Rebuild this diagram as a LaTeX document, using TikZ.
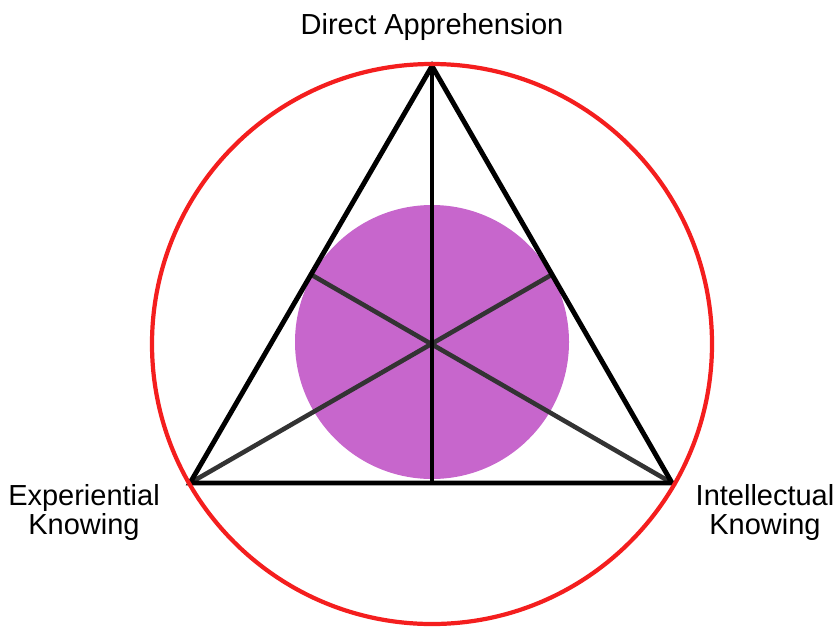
\documentclass[tikz,border=0pt]{standalone}
\usepackage{fontspec}
\setmainfont{Liberation Sans}
\definecolor{triRed}{HTML}{F41E1E}
\definecolor{triPurple}{HTML}{C766CC}
\definecolor{triGray}{HTML}{333333}
\usetikzlibrary{calc}

\begin{document}
\begin{tikzpicture}[x=0.02cm, y=-0.02cm,
  edge/.style={line width=2.8pt, line join=miter},
  median/.style={triGray, line width=2.6pt},
  lbl/.style={font=\fontsize{16.5}{16}\selectfont, align=center, inner sep=0pt}]
  \useasboundingbox (0,0) rectangle (834,626);
  \coordinate (apex) at (432,66);
  \coordinate (expK) at (190,483);
  \coordinate (intK) at (672,483);
  \coordinate (ctr) at (432,344);
  \fill[triPurple] (432,342) circle[radius=137];
  \draw[median] (expK) -- ($(apex)!0.5!(intK)$);
  \draw[median] (intK) -- ($(apex)!0.5!(expK)$);
  \draw[edge] (apex) -- (apex |- expK);
  \draw[edge] (apex) -- (expK) -- (intK) -- cycle;
  \draw[triRed, line width=2.4pt] (ctr) circle[radius=280];
  \node[lbl, anchor=base] (lblApex) at (432,34) {Direct Apprehension};
  \node[lbl, anchor=base] (lblExp) at (84,534) {Experiential\\Knowing};
  \node[lbl, anchor=base] (lblInt) at (765,534) {Intellectual\\Knowing};
\end{tikzpicture}
\end{document}
